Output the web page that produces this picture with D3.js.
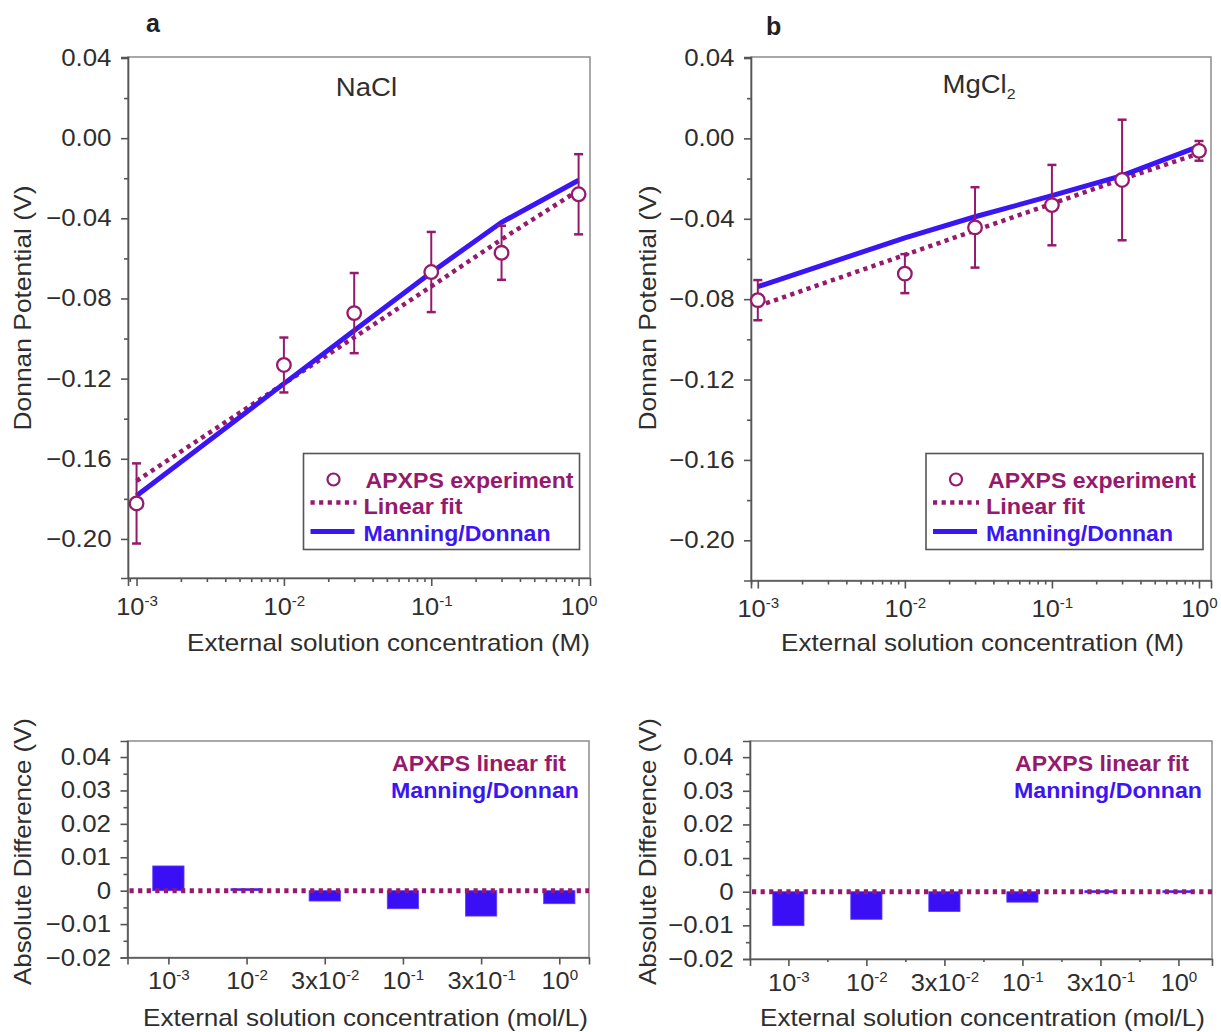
<!DOCTYPE html>
<html><head><meta charset="utf-8">
<script src="https://cdn.jsdelivr.net/npm/d3@7"></script>
<style>
body{margin:0;background:#fff;}
text{font-family:"Liberation Sans",Arial,Helvetica,sans-serif;}
</style>
</head><body>
<svg id="chart" width="1221" height="1032"></svg>
<script>
// ---------------- data ----------------
const concentrations = [0.001, 0.01, 0.03, 0.1, 0.3, 1];

const naclExp     = [-0.1823, -0.1132, -0.0873, -0.0668, -0.0572, -0.0280];
const naclErr     = [0.0200, 0.0137, 0.0200, 0.0200, 0.0135, 0.0200];
const naclLinear  = [-0.1710, -0.1225, -0.0994, -0.0740, -0.0505, -0.0260];
const naclManning = [-0.1785, -0.1225, -0.0960, -0.0670, -0.0420, -0.0210];

const mgExp     = [-0.0805, -0.0673, -0.0443, -0.0332, -0.0207, -0.0062];
const mgErr     = [0.0100, 0.0097, 0.0200, 0.0200, 0.0300, 0.0049];
const mgLinear  = [-0.0835, -0.0580, -0.0458, -0.0325, -0.0203, -0.0075];
const mgManning = [-0.0738, -0.0495, -0.0390, -0.0285, -0.0185, -0.0040];

const diffLabelBase = ["10", "10", "3x10", "10", "3x10", "10"];
const diffLabelExp  = ["-3", "-2", "-2", "-1", "-1", "0"];
const naclDiff = [0.0074, 0.0003, -0.0031, -0.0054, -0.0076, -0.0039];
const mgDiff   = [-0.0101, -0.0082, -0.0059, -0.0031, -0.0003, -0.0002];

const topYTicks   = [0.04, 0.00, -0.04, -0.08, -0.12, -0.16, -0.20];
const topYMinor   = [0.02, -0.02, -0.06, -0.10, -0.14, -0.18];
const logTicks    = [0.001, 0.01, 0.1, 1];
const logTickExp  = ["-3", "-2", "-1", "0"];
const diffYTicks  = [0.04, 0.03, 0.02, 0.01, 0, -0.01, -0.02];
const diffYMinor  = [0.035, 0.025, 0.015, 0.005, -0.005, -0.015];

// ---------------- style ----------------
const PURPLE = "#951a6d", BLUE = "#3b16f5", BAR = "#3a0ff6";
const AXIS = "#555", FRAME = "#8c8c8c", TXT = "#2e2e2e";
const svg = d3.select("#chart");

function styleAxis(g) {
  g.select(".domain").attr("stroke", AXIS).attr("stroke-width", 1.6);
  g.selectAll(".tick line").attr("stroke", AXIS).attr("stroke-width", 1.6);
  g.selectAll(".tick text").attr("fill", TXT).style("font-size", "23.5px")
    .attr("transform", "scale(1.1,1)");
}

function supLabel(sel, base, exp, size, supSize) {
  const t = sel.append("text").attr("text-anchor", "middle").attr("fill", TXT)
    .style("font-size", size + "px").attr("transform", "scale(1.08,1)");
  t.append("tspan").text(base);
  t.append("tspan").attr("dy", -9).style("font-size", supSize + "px").text(exp);
  return t;
}

function stretchText(g, x, y, str, len, size, color, bold, anchor) {
  const t = g.append("text").attr("x", x).attr("y", y).attr("fill", color)
    .style("font-size", size + "px").attr("textLength", len).attr("lengthAdjust", "spacingAndGlyphs")
    .text(str);
  if (bold) t.style("font-weight", "bold");
  if (anchor) t.attr("text-anchor", anchor);
  return t;
}

// ---------------- top panels ----------------
function topPanel(o) {
  const x = d3.scaleLog().domain(o.xDomain).range([o.left, o.right]);
  const y = d3.scaleLinear().domain(o.yDomain).range([o.bottom, o.top]);
  const g = svg.append("g");

  g.append("rect").attr("x", o.left).attr("y", o.top)
    .attr("width", o.right - o.left).attr("height", o.bottom - o.top)
    .attr("fill", "none").attr("stroke", FRAME).attr("stroke-width", 1.5);

  // y axis
  const ya = g.append("g").attr("transform", `translate(${o.left},0)`)
    .call(d3.axisLeft(y).tickValues(topYTicks).tickSizeOuter(0).tickSize(7).tickPadding(8)
      .tickFormat(d3.format(".2f")));
  styleAxis(ya);
  const ym = g.append("g").attr("transform", `translate(${o.left},0)`)
    .call(d3.axisLeft(y).tickValues(topYMinor).tickSizeOuter(0).tickSize(4).tickFormat(""));
  styleAxis(ym); ym.select(".domain").remove();

  // x axis (log)
  const minor = [];
  for (let e = -4; e <= 0; e++) for (let k = 2; k <= 9; k++) {
    const v = k * Math.pow(10, e);
    if (v > o.xDomain[0] && v < o.xDomain[1]) minor.push(v);
  }
  const xa = g.append("g").attr("transform", `translate(0,${o.bottom})`)
    .call(d3.axisBottom(x).tickValues(logTicks).tickSizeOuter(0).tickSize(8).tickFormat(""));
  styleAxis(xa);
  xa.selectAll(".tick").each(function (d, i) {
    supLabel(d3.select(this), "10", logTickExp[i], 23.5, 14).attr("y", 37);
  });
  const xm = g.append("g").attr("transform", `translate(0,${o.bottom})`)
    .call(d3.axisBottom(x).tickValues(minor).tickSize(4).tickFormat(""));
  styleAxis(xm); xm.select(".domain").remove();

  // lines
  const line = d3.line().x((d, i) => x(concentrations[i])).y(d => y(d));
  g.append("path").datum(o.linear).attr("d", line).attr("fill", "none")
    .attr("stroke", PURPLE).attr("stroke-width", 4.5).attr("stroke-dasharray", "4.2,4.4");
  g.append("path").datum(o.manning).attr("d", line).attr("fill", "none")
    .attr("stroke", BLUE).attr("stroke-width", 5);

  // error bars
  const eb = g.append("g").attr("stroke", PURPLE).attr("stroke-width", 2);
  o.exp.forEach((v, i) => {
    const cx = x(concentrations[i]);
    const y1 = y(v + o.err[i]), y2 = y(v - o.err[i]);
    eb.append("line").attr("x1", cx).attr("x2", cx).attr("y1", y1).attr("y2", y2);
    eb.append("line").attr("x1", cx - 4.5).attr("x2", cx + 4.5).attr("y1", y1).attr("y2", y1).attr("stroke-width", 2.5);
    eb.append("line").attr("x1", cx - 4.5).attr("x2", cx + 4.5).attr("y1", y2).attr("y2", y2).attr("stroke-width", 2.5);
  });
  g.selectAll("circle.pt").data(o.exp).enter().append("circle").attr("class", "pt")
    .attr("cx", (d, i) => x(concentrations[i])).attr("cy", d => y(d)).attr("r", 6.8)
    .attr("fill", "#fff").attr("stroke", PURPLE).attr("stroke-width", 2.3);

  // titles
  const tt = g.append("text").attr("x", o.titleX).attr("y", o.titleY).attr("text-anchor", "middle")
    .attr("fill", TXT).style("font-size", "26px").attr("transform", `translate(${o.titleX},0) scale(1.06,1) translate(${-o.titleX},0)`)
    .text(o.title);
  if (o.titleSub) tt.append("tspan").attr("dy", 6).style("font-size", "15px").text(o.titleSub);

  g.append("text").attr("x", o.labelX).attr("y", o.labelY).attr("fill", "#222")
    .style("font-size", "25px").style("font-weight", "bold").text(o.label);

  stretchText(g, o.xtitleX, 651, "External solution concentration (M)", 403, 24, TXT, false, "middle");
  const yt = g.append("g").attr("transform", `translate(${o.ytitleX},308) rotate(-90)`);
  stretchText(yt, 0, 0, "Donnan Potential (V)", 245, 24, TXT, false, "middle");

  // legend
  const L = o.legend;
  const lg = g.append("g");
  lg.append("rect").attr("x", L.x).attr("y", L.y).attr("width", L.w).attr("height", L.h)
    .attr("fill", "#fff").attr("stroke", "#555").attr("stroke-width", 1.6);
  lg.append("circle").attr("cx", L.x + 30).attr("cy", L.y + 26).attr("r", 6)
    .attr("fill", "#fff").attr("stroke", PURPLE).attr("stroke-width", 2.2);
  lg.append("line").attr("x1", L.x + 7).attr("x2", L.x + 53).attr("y1", L.y + 49).attr("y2", L.y + 49)
    .attr("stroke", PURPLE).attr("stroke-width", 4.5).attr("stroke-dasharray", "4.2,4.4");
  lg.append("line").attr("x1", L.x + 7).attr("x2", L.x + 51).attr("y1", L.y + 78).attr("y2", L.y + 78)
    .attr("stroke", BLUE).attr("stroke-width", 5);
  stretchText(lg, L.x + 62, L.y + 34, "APXPS experiment", 208, 22, PURPLE, true);
  stretchText(lg, L.x + 60, L.y + 60, "Linear fit", 99, 22, PURPLE, true);
  stretchText(lg, L.x + 60, L.y + 87, "Manning/Donnan", 187, 22, BLUE, true);
}

topPanel({
  left: 128, right: 590, top: 57, bottom: 578,
  xDomain: [0.000875, 1.195], yDomain: [-0.2195, 0.0405],
  exp: naclExp, err: naclErr, linear: naclLinear, manning: naclManning,
  title: "NaCl", titleX: 366.5, titleY: 96, label: "a", labelX: 146, labelY: 32,
  xtitleX: 388.5, ytitleX: 31, legend: { x: 303.5, y: 453.5, w: 276, h: 96 }
});
topPanel({
  left: 751, right: 1211, top: 57, bottom: 580.5,
  xDomain: [0.000899, 1.207], yDomain: [-0.22, 0.0405],
  exp: mgExp, err: mgErr, linear: mgLinear, manning: mgManning,
  title: "MgCl", titleSub: "2", titleX: 979, titleY: 93.5, label: "b", labelX: 766, labelY: 34.5,
  xtitleX: 982.5, ytitleX: 656, legend: { x: 926, y: 453.5, w: 277, h: 96 }
});

// ---------------- bottom panels ----------------
function bottomPanel(o) {
  const x = d3.scaleLinear().domain(o.idxDomain).range([o.left, o.right]);
  const y = d3.scaleLinear().domain([-0.02, 0.0448]).range([o.bottom, o.top]);
  const g = svg.append("g");
  const idx = d3.range(o.diff.length);

  g.append("rect").attr("x", o.left).attr("y", o.top)
    .attr("width", o.right - o.left).attr("height", o.bottom - o.top)
    .attr("fill", "none").attr("stroke", FRAME).attr("stroke-width", 1.5);

  const ya = g.append("g").attr("transform", `translate(${o.left},0)`)
    .call(d3.axisLeft(y).tickValues(diffYTicks).tickSizeOuter(0).tickSize(7).tickPadding(8)
      .tickFormat(v => v === 0 ? "0" : d3.format(".2f")(v)));
  styleAxis(ya);
  const ym = g.append("g").attr("transform", `translate(${o.left},0)`)
    .call(d3.axisLeft(y).tickValues(diffYMinor).tickSizeOuter(0).tickSize(4).tickFormat(""));
  styleAxis(ym); ym.select(".domain").remove();

  const xa = g.append("g").attr("transform", `translate(0,${o.bottom})`)
    .call(d3.axisBottom(x).tickValues(idx).tickSizeOuter(0).tickSize(7).tickFormat(""));
  styleAxis(xa);
  xa.selectAll(".tick").each(function (d, i) {
    supLabel(d3.select(this), diffLabelBase[i], diffLabelExp[i], 23.5, 14).attr("y", 32);
  });
  if (o.midTicks) {
    const xm = g.append("g").attr("transform", `translate(0,${o.bottom})`)
      .call(d3.axisBottom(x).tickValues(idx.slice(0, -1).map(i => i + 0.5)).tickSize(3).tickFormat(""));
    styleAxis(xm); xm.select(".domain").remove();
  }

  // bars
  g.selectAll("rect.bar").data(o.diff).enter().append("rect").attr("class", "bar")
    .attr("x", (d, i) => x(i - 0.2)).attr("width", (d, i) => x(i + 0.2) - x(i - 0.2))
    .attr("y", d => Math.min(y(d), y(0)) - (Math.abs(y(d) - y(0)) < 2 ? 1 : 0))
    .attr("height", d => Math.max(2, Math.abs(y(d) - y(0))))
    .attr("fill", BAR).attr("stroke", "#5a3cff").attr("stroke-width", 0.8);

  // zero reference (APXPS linear fit)
  g.append("line").attr("x1", o.left + 2).attr("x2", o.right).attr("y1", y(0)).attr("y2", y(0))
    .attr("stroke", PURPLE).attr("stroke-width", 5).attr("stroke-dasharray", "4.2,4.4");

  stretchText(g, o.legX, 771, "APXPS linear fit", 174, 22, PURPLE, true);
  stretchText(g, o.legX - 1, 798, "Manning/Donnan", 188, 22, BLUE, true);

  stretchText(g, o.xtitleX, 1026, "External solution concentration (mol/L)", 445, 24, TXT, false, "middle");
  const yt = g.append("g").attr("transform", `translate(${o.ytitleX},851.5) rotate(-90)`);
  stretchText(yt, 0, 0, "Absolute Difference (V)", 267, 24, TXT, false, "middle");
}

bottomPanel({ left: 127.5, right: 589, top: 741, bottom: 957.5, idxDomain: [-0.523, 5.38],
  diff: naclDiff, legX: 392, xtitleX: 365.5, ytitleX: 31, midTicks: false });
bottomPanel({ left: 750, right: 1212, top: 741, bottom: 959, idxDomain: [-0.492, 5.43],
  diff: mgDiff, legX: 1015, xtitleX: 982.5, ytitleX: 656, midTicks: true });
</script>
</body></html>
